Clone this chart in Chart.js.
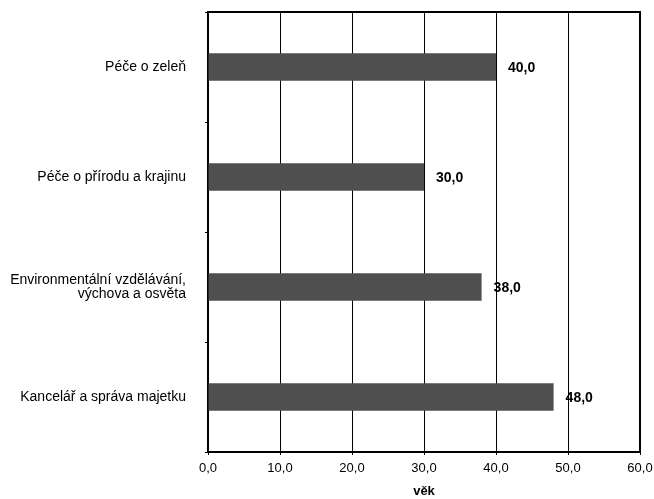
<!DOCTYPE html>
<html>
<head>
<meta charset="utf-8">
<script src="https://cdn.jsdelivr.net/npm/chart.js@4.4.0/dist/chart.umd.min.js"></script>
<style>
html,body{margin:0;padding:0;background:#fff;}
#wrap{width:654px;height:499px;position:relative;}
</style>
</head>
<body>
<div id="wrap"><canvas id="c" width="654" height="499"></canvas></div>
<script>
const categories = [
  "Péče o zeleň",
  "Péče o přírodu a krajinu",
  ["Environmentální vzdělávání,", "výchova a osvěta"],
  "Kancelář a správa majetku"
];
const values = [40.0, 30.0, 38.0, 48.0];
const xTicks = [0, 10, 20, 30, 40, 50, 60];
const xTitle = "věk";

const FONT = "'Liberation Sans', Arial, sans-serif";
const fmt = v => v.toFixed(1).replace('.', ',');

const frame = {
  id: 'frame',
  afterDraw(chart) {
    const {ctx, chartArea: a} = chart;
    ctx.save();
    ctx.strokeStyle = '#000';
    ctx.lineWidth = 2;
    ctx.beginPath();
    ctx.moveTo(a.left, a.top);
    ctx.lineTo(a.right, a.top);
    ctx.lineTo(a.right, a.bottom);
    ctx.stroke();
    ctx.restore();
  }
};

const labels = {
  id: 'labels',
  afterDatasetsDraw(chart) {
    const {ctx} = chart;
    const meta = chart.getDatasetMeta(0);
    ctx.save();
    ctx.font = "bold 14px " + FONT;
    ctx.fillStyle = '#000';
    ctx.textAlign = 'left';
    ctx.textBaseline = 'middle';
    meta.data.forEach((bar, i) => {
      ctx.fillText(fmt(values[i]), bar.x + 12, bar.y + 1);
    });
    ctx.restore();
  }
};

new Chart(document.getElementById('c'), {
  type: 'bar',
  data: {
    labels: categories,
    datasets: [{
      data: values,
      backgroundColor: '#4f4f4f',
      borderWidth: 0,
      categoryPercentage: 1.0,
      barPercentage: 0.25
    }]
  },
  options: {
    indexAxis: 'y',
    responsive: false,
    animation: false,
    devicePixelRatio: 1,
    layout: { padding: { top: 12, right: 14, left: 0, bottom: 0 } },
    plugins: { legend: { display: false }, tooltip: { enabled: false } },
    scales: {
      x: {
        min: 0, max: 60,
        afterBuildTicks(scale) { scale.ticks = xTicks.map(v => ({value: v})); },
        afterFit(scale) { scale.height = 47; scale.paddingLeft = 0; scale.paddingRight = 0; },
        ticks: {
          font: { family: FONT, size: 13 },
          color: '#000',
          padding: 6,
          maxRotation: 0,
          callback: v => fmt(v)
        },
        grid: { color: '#000', lineWidth: 1, tickLength: 3, drawOnChartArea: true },
        border: { color: '#000', width: 2 },
        title: {
          display: true, text: xTitle, color: '#000',
          font: { family: FONT, size: 13, weight: 'bold' },
          padding: { top: 0, bottom: 0 }
        }
      },
      y: {
        afterFit(scale) { scale.width = 208; scale.paddingTop = 0; scale.paddingBottom = 0; },
        ticks: {
          font: { family: FONT, size: 14, lineHeight: 1.0 },
          color: '#000',
          padding: 19,
          crossAlign: 'near'
        },
        grid: { display: true, drawOnChartArea: false, color: '#000', lineWidth: 1, tickLength: 3, offset: true },
        border: { color: '#000', width: 2 }
      }
    }
  },
  plugins: [frame, labels]
});
</script>
</body>
</html>
